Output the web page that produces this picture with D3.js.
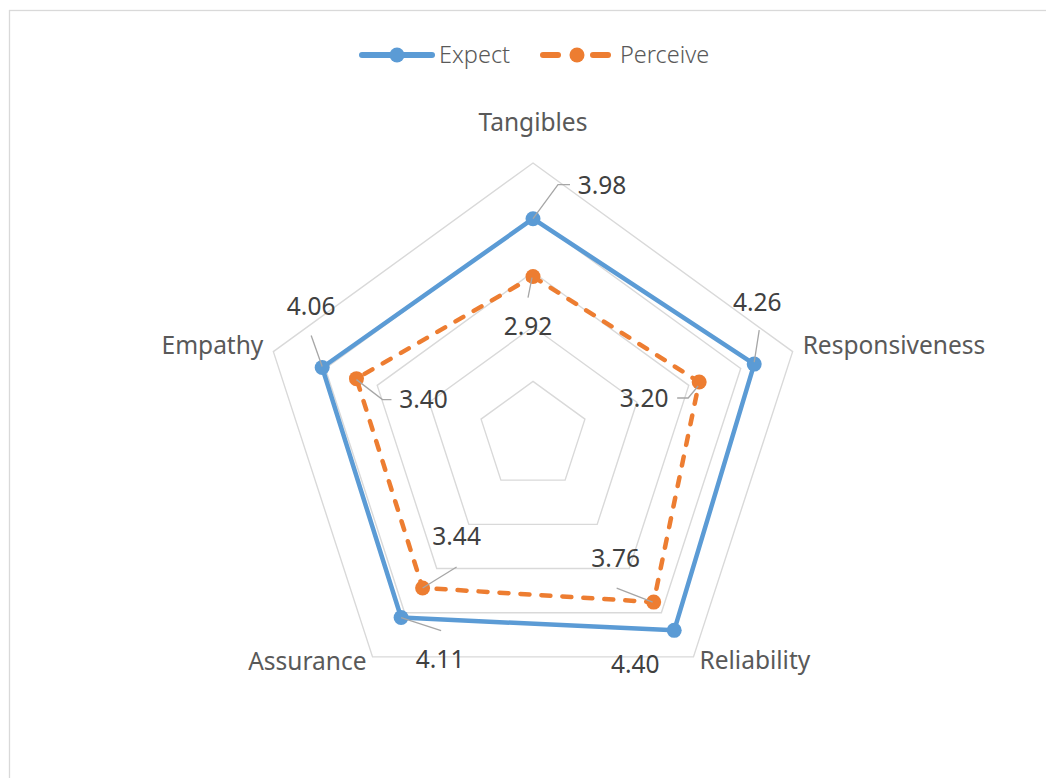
<!DOCTYPE html>
<html>
<head>
<meta charset="utf-8">
<script src="https://cdn.jsdelivr.net/npm/d3@7"></script>
<style>
  html, body { margin: 0; padding: 0; background: #fff; }
  svg { display: block; }
  text { font-family: "Noto Sans", "Open Sans", sans-serif; }
</style>
</head>
<body>
<svg id="chart" width="1046" height="778"></svg>
<script>
// Service-quality dimensions (axes of the radar)
const dimensions = ["Tangibles", "Responsiveness", "Reliability", "Assurance", "Empathy"];

// Mean scores per dimension
const expectValues = [3.98, 4.26, 4.40, 4.11, 4.06];
const perceiveValues = [2.92, 3.20, 3.76, 3.44, 3.40];

// Radial scale ticks (rings)
const ringTicks = [1, 2, 3, 4, 5];

// Data-label placement relative to each marker: text centre offset and leader path
const expectLabelLayout = [
  { dx: 69, dy: -25, leader: [[0, 0], [25, -34], [37, -34]] },
  { dx: 3, dy: -53, leader: [[0, -2], [5, -34]] },
  { dx: -39, dy: 43, leader: null },
  { dx: 39, dy: 50, leader: [[0, 0], [40, 13]] },
  { dx: -11, dy: -52, leader: [[0, -1], [-11, -32]] }
];
const perceiveLabelLayout = [
  { dx: -5, dy: 58, leader: [[-1, 1], [-5, 21]] },
  { dx: -55, dy: 25, leader: [[-1, 4], [-11, 16], [-22, 16]] },
  { dx: -38, dy: -35, leader: [[-1, 0], [-37, -14]] },
  { dx: 34, dy: -43, leader: [[0, 0], [34, -21]] },
  { dx: 67, dy: 29, leader: [[0, 1], [26, 21], [35, 21]] }
];

const series = [
  { name: "Expect", values: expectValues, layout: expectLabelLayout, color: "#5b9bd5", dash: null },
  { name: "Perceive", values: perceiveValues, layout: perceiveLabelLayout, color: "#ed7d31", dash: "9 12" }
];

const svg = d3.select("#chart");
const cx = 533, cy = 436, outerR = 273;

const r = d3.scaleLinear().domain([0, 5]).range([0, outerR]);
const angle = d3.scaleLinear().domain([0, dimensions.length]).range([0, 2 * Math.PI]);

function pt(i, v) {
  const a = angle(i);
  return [cx + r(v) * Math.sin(a), cy - r(v) * Math.cos(a)];
}

// Chart-area frame
svg.append("rect")
  .attr("x", 9.5).attr("y", 10.5)
  .attr("width", 1100).attr("height", 900)
  .attr("fill", "none").attr("stroke", "#d9d9d9").attr("stroke-width", 1.3);

// Concentric pentagon grid
const lineClosed = d3.line().curve(d3.curveLinearClosed);
svg.append("g").selectAll("path")
  .data(ringTicks)
  .join("path")
  .attr("d", t => lineClosed(dimensions.map((d, i) => pt(i, t))))
  .attr("fill", "none")
  .attr("stroke", "#d9d9d9")
  .attr("stroke-width", 1.4);

// Axis category labels
const catLabelPos = [
  { dx: 0, dy: -32, anchor: "middle" },
  { dx: 10, dy: 2, anchor: "start" },
  { dx: 6, dy: 12, anchor: "start" },
  { dx: -6, dy: 13, anchor: "end" },
  { dx: -10, dy: 2, anchor: "end" }
];
svg.append("g").selectAll("text")
  .data(dimensions)
  .join("text")
  .attr("x", (d, i) => pt(i, 5)[0] + catLabelPos[i].dx)
  .attr("y", (d, i) => pt(i, 5)[1] + catLabelPos[i].dy)
  .attr("text-anchor", (d, i) => catLabelPos[i].anchor)
  .attr("font-size", 24.5)
  .attr("fill", "#595959")
  .text(d => d);

// Series polygons
series.forEach(s => {
  const g = svg.append("g");
  g.append("path")
    .attr("d", lineClosed(s.values.map((v, i) => pt(i, v))))
    .attr("fill", "none")
    .attr("stroke", s.color)
    .attr("stroke-width", 4.5)
    .attr("stroke-linejoin", "round")
    .attr("stroke-linecap", "round")
    .attr("stroke-dasharray", s.dash);
});

// Leader lines and markers
series.forEach(s => {
  const g = svg.append("g");
  s.values.forEach((v, i) => {
    const [x, y] = pt(i, v);
    const lay = s.layout[i];
    g.append("circle")
      .attr("cx", x).attr("cy", y).attr("r", 7.5)
      .attr("fill", s.color);
    if (lay.leader) {
      g.append("path")
        .attr("d", d3.line()(lay.leader.map(p => [x + p[0], y + p[1]])))
        .attr("fill", "none")
        .attr("stroke", "#a6a6a6")
        .attr("stroke-width", 1.3);
    }
  });
});

// Value labels
series.forEach(s => {
  const g = svg.append("g");
  s.values.forEach((v, i) => {
    const [x, y] = pt(i, v);
    const lay = s.layout[i];
    g.append("text")
      .attr("x", x + lay.dx)
      .attr("y", y + lay.dy)
      .attr("text-anchor", "middle")
      .attr("font-size", 24.5)
      .attr("fill", "#404040")
      .text(v.toFixed(2));
  });
});

// Legend
const legendItems = [
  { s: series[0], x: 362 },
  { s: series[1], x: 543 }
];
const lg = svg.append("g");
legendItems.forEach(item => {
  const y = 55;
  if (item.s.dash) {
    [[item.x, item.x + 15], [item.x + 50, item.x + 65]].forEach(seg => {
      lg.append("line")
        .attr("x1", seg[0]).attr("x2", seg[1]).attr("y1", y).attr("y2", y)
        .attr("stroke", item.s.color).attr("stroke-width", 6).attr("stroke-linecap", "round");
    });
  } else {
    lg.append("line")
      .attr("x1", item.x).attr("x2", item.x + 70).attr("y1", y).attr("y2", y)
      .attr("stroke", item.s.color).attr("stroke-width", 6).attr("stroke-linecap", "round");
  }
  lg.append("circle")
    .attr("cx", item.s.dash ? item.x + 34 : item.x + 35).attr("cy", y).attr("r", 7.5)
    .attr("fill", item.s.color);
  lg.append("text")
    .attr("x", item.s.dash ? item.x + 77 : item.x + 77)
    .attr("y", y + 8)
    .attr("font-size", 23.5)
    .attr("font-weight", 300)
    .attr("fill", "#595959")
    .text(item.s.name);
});
</script>
</body>
</html>
